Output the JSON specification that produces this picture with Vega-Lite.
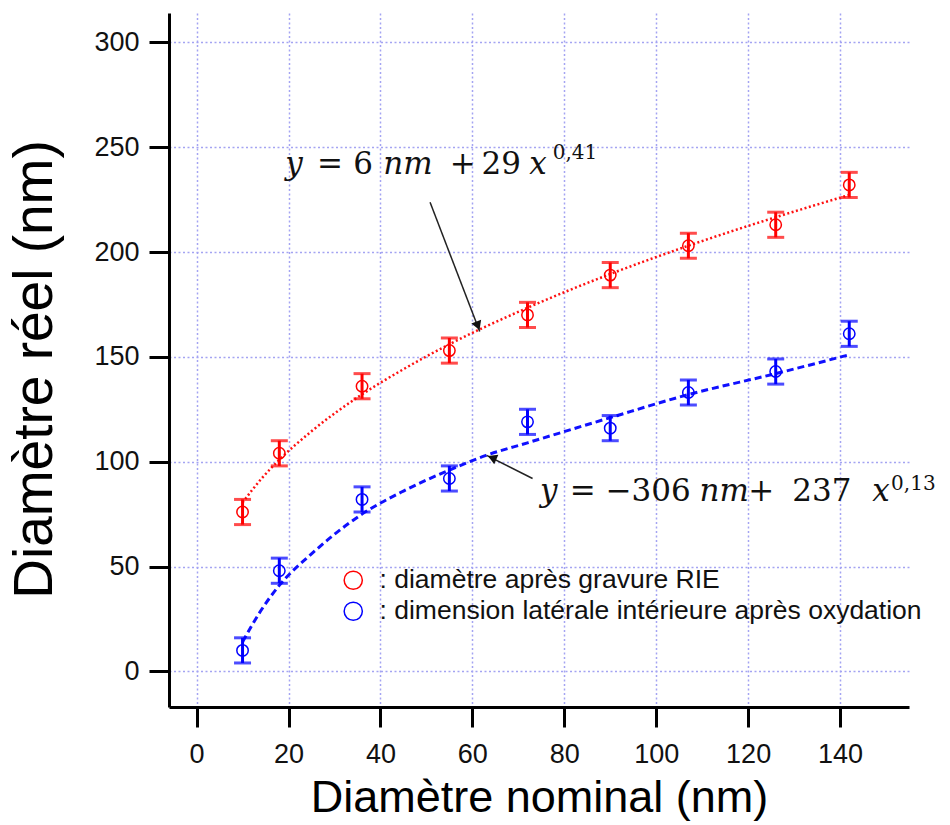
{
  "$schema": "https://vega.github.io/schema/vega-lite/v6.json",
  "width": 740,
  "height": 694,
  "autosize": {"type": "none"},
  "padding": {"left": 169, "top": 13, "right": 41, "bottom": 118},
  "background": "white",
  "config": {
    "view": {"stroke": null},
    "axis": {
      "domainColor": "#000", "domainWidth": 3,
      "tickColor": "#000", "tickWidth": 3, "tickSize": 20,
      "labelFont": "Liberation Sans", "labelFontSize": 27, "labelColor": "#111",
      "titleFont": "Liberation Sans", "titleFontWeight": "normal", "titleColor": "#000",
      "grid": true, "gridColor": "#a4a4f2", "gridDash": [2, 2.5], "gridWidth": 1.5
    },
    "axisX": {"labelPadding": 14, "titleFontSize": 45, "titlePadding": 8},
    "axisY": {"labelPadding": 10, "titleFontSize": 55, "titlePadding": 30, "titleY": 356}
  },
  "datasets": {
    "pts": [
      {"x": 10, "y": 76, "e": 6, "s": "diamètre après gravure RIE"},
      {"x": 18, "y": 104, "e": 6, "s": "diamètre après gravure RIE"},
      {"x": 36, "y": 136, "e": 6, "s": "diamètre après gravure RIE"},
      {"x": 55, "y": 153, "e": 6, "s": "diamètre après gravure RIE"},
      {"x": 72, "y": 170, "e": 6, "s": "diamètre après gravure RIE"},
      {"x": 90, "y": 189, "e": 6, "s": "diamètre après gravure RIE"},
      {"x": 107, "y": 203, "e": 6, "s": "diamètre après gravure RIE"},
      {"x": 126, "y": 213, "e": 6, "s": "diamètre après gravure RIE"},
      {"x": 142, "y": 232, "e": 6, "s": "diamètre après gravure RIE"},
      {"x": 10, "y": 10, "e": 6, "s": "dimension latérale intérieure après oxydation"},
      {"x": 18, "y": 48, "e": 6, "s": "dimension latérale intérieure après oxydation"},
      {"x": 36, "y": 82, "e": 6, "s": "dimension latérale intérieure après oxydation"},
      {"x": 55, "y": 92, "e": 6, "s": "dimension latérale intérieure après oxydation"},
      {"x": 72, "y": 119, "e": 6, "s": "dimension latérale intérieure après oxydation"},
      {"x": 90, "y": 116, "e": 6, "s": "dimension latérale intérieure après oxydation"},
      {"x": 107, "y": 133, "e": 6, "s": "dimension latérale intérieure après oxydation"},
      {"x": 126, "y": 143, "e": 6, "s": "dimension latérale intérieure après oxydation"},
      {"x": 142, "y": 161, "e": 6, "s": "dimension latérale intérieure après oxydation"}
    ],
    "fitR": [
      {"x": 10, "y": 80.5}, {"x": 14, "y": 91.6}, {"x": 18, "y": 100.9}, {"x": 25, "y": 114.5},
      {"x": 36, "y": 132.1}, {"x": 45, "y": 144.1}, {"x": 55, "y": 156.0}, {"x": 72, "y": 173.4},
      {"x": 90, "y": 189.5}, {"x": 107, "y": 203.0}, {"x": 126, "y": 216.6}, {"x": 142, "y": 227.2}
    ],
    "fitB": [
      {"x": 10, "y": 14}, {"x": 14, "y": 29}, {"x": 18, "y": 41}, {"x": 25, "y": 56},
      {"x": 36, "y": 75}, {"x": 45, "y": 86}, {"x": 55, "y": 96}, {"x": 63, "y": 103},
      {"x": 72, "y": 109}, {"x": 90, "y": 121}, {"x": 107, "y": 132}, {"x": 126, "y": 142},
      {"x": 142, "y": 151}
    ],
    "eqi": [
      {"x": 19.3, "y": 237, "t": "y"}, {"x": 40.6, "y": 237, "t": "nm"}, {"x": 72.4, "y": 237, "t": "x"},
      {"x": 74.7, "y": 81.2, "t": "y"}, {"x": 109.4, "y": 81.2, "t": "nm"}, {"x": 147.0, "y": 81.2, "t": "x"}
    ],
    "eqr": [
      {"x": 26.2, "y": 237, "t": "="}, {"x": 34.1, "y": 237, "t": "6"}, {"x": 55.1, "y": 237, "t": "+"},
      {"x": 62.0, "y": 237, "t": "29"},
      {"x": 81.2, "y": 81.2, "t": "="}, {"x": 89.0, "y": 81.2, "t": "−306"},
      {"x": 120.0, "y": 81.2, "t": "+"}, {"x": 129.6, "y": 81.2, "t": "237"}
    ],
    "eqs": [
      {"x": 77.5, "y": 244.2, "t": "0,41"}, {"x": 151.1, "y": 86.3, "t": "0,13"}
    ],
    "arrows": [
      {"x": 50.8, "y": 223.7, "x2": 61.6, "y2": 162.1},
      {"x": 73.1, "y": 92.0, "x2": 63.1, "y2": 103.0}
    ],
    "head1": [{"x": 61.2, "y": 164.8}],
    "head2": [{"x": 64.3, "y": 101.9}]
  },
  "encoding": {
    "x": {
      "field": "x", "type": "quantitative",
      "scale": {"domain": [-6, 155], "nice": false, "zero": false},
      "axis": {"values": [0, 20, 40, 60, 80, 100, 120, 140], "title": "Diamètre nominal (nm)"}
    },
    "y": {
      "field": "y", "type": "quantitative",
      "scale": {"domain": [-17, 314], "nice": false, "zero": false},
      "axis": {"values": [0, 50, 100, 150, 200, 250, 300], "title": "Diamètre réel (nm)"}
    }
  },
  "layer": [
    {
      "data": {"name": "fitR"},
      "mark": {"type": "line", "color": "#ff1010", "strokeWidth": 2.5, "strokeDash": [2, 2.5], "interpolate": "monotone"}
    },
    {
      "data": {"name": "fitB"},
      "mark": {"type": "line", "color": "#1010ff", "strokeWidth": 3, "strokeDash": [7, 4], "interpolate": "monotone"}
    },
    {
      "data": {"name": "pts"},
      "transform": [{"filter": "datum.s == 'diamètre après gravure RIE'"}],
      "mark": {"type": "errorbar", "color": "#ff0000", "ticks": {"size": 17, "thickness": 3}, "rule": {"strokeWidth": 3}},
      "encoding": {"yError": {"field": "e"}}
    },
    {
      "data": {"name": "pts"},
      "transform": [{"filter": "datum.s != 'diamètre après gravure RIE'"}],
      "mark": {"type": "errorbar", "color": "#0000ff", "ticks": {"size": 17, "thickness": 3}, "rule": {"strokeWidth": 3}},
      "encoding": {"yError": {"field": "e"}}
    },
    {
      "data": {"name": "pts"},
      "mark": {"type": "point", "shape": "circle", "filled": false, "size": 130, "strokeWidth": 1.5, "opacity": 1},
      "encoding": {
        "color": {
          "field": "s", "type": "nominal",
          "scale": {"domain": ["diamètre après gravure RIE", "dimension latérale intérieure après oxydation"], "range": ["#ff0000", "#0000ff"]},
          "legend": {
            "orient": "none", "legendX": 171, "legendY": 554, "title": null,
            "labelFont": "Liberation Sans", "labelFontSize": 26.5, "labelColor": "#111",
            "symbolType": "circle", "symbolSize": 330, "symbolStrokeWidth": 1.5,
            "symbolFillColor": "transparent", "rowPadding": 4, "labelOffset": 13,
            "labelExpr": "': ' + datum.label", "labelLimit": 0
          }
        }
      }
    },
    {
      "data": {"name": "arrows"},
      "mark": {"type": "rule", "color": "#222", "strokeWidth": 1.5},
      "encoding": {"x2": {"field": "x2"}, "y2": {"field": "y2"}}
    },
    {
      "data": {"name": "head1"},
      "mark": {"type": "point", "shape": "triangle-up", "filled": true, "color": "#111", "size": 110, "angle": 158.8, "opacity": 1}
    },
    {
      "data": {"name": "head2"},
      "mark": {"type": "point", "shape": "triangle-up", "filled": true, "color": "#111", "size": 110, "angle": 293.1, "opacity": 1}
    },
    {
      "data": {"name": "eqi"},
      "mark": {"type": "text", "font": "DejaVu Serif", "fontStyle": "italic", "fontSize": 31, "align": "left", "baseline": "alphabetic", "color": "#111"},
      "encoding": {"text": {"field": "t"}}
    },
    {
      "data": {"name": "eqr"},
      "mark": {"type": "text", "font": "DejaVu Serif", "fontSize": 31, "align": "left", "baseline": "alphabetic", "color": "#111"},
      "encoding": {"text": {"field": "t"}}
    },
    {
      "data": {"name": "eqs"},
      "mark": {"type": "text", "font": "DejaVu Serif", "fontSize": 20, "align": "left", "baseline": "alphabetic", "color": "#111"},
      "encoding": {"text": {"field": "t"}}
    }
  ]
}
